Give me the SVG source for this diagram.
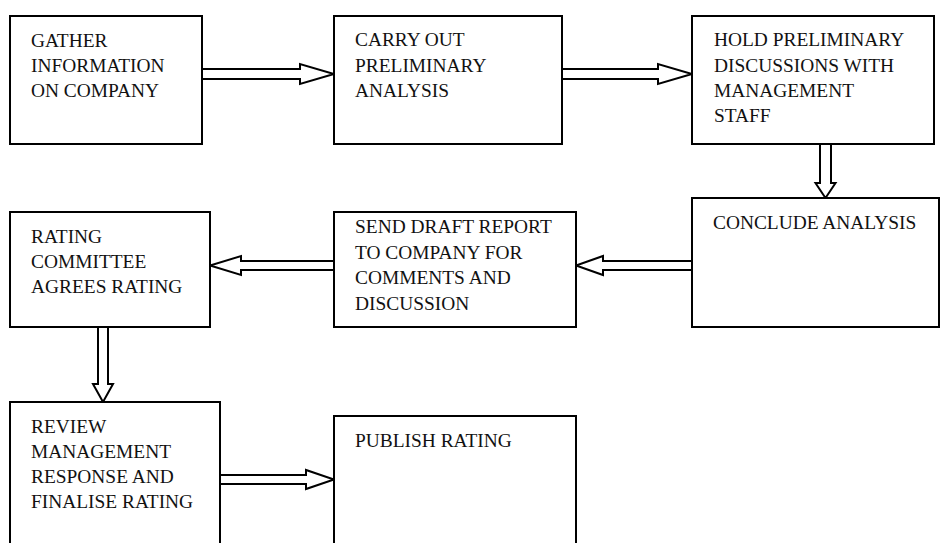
<svg xmlns="http://www.w3.org/2000/svg" width="941" height="543" viewBox="0 0 941 543">
<style>
.box{fill:#fff;stroke:#000;stroke-width:2}
.arr{fill:#fff;stroke:#000;stroke-width:2;stroke-linejoin:miter}
text{font-family:"Liberation Serif","Times New Roman",serif;font-size:19.4px;fill:#111}
</style>
<rect width="941" height="543" fill="#fff"/>
<g id="connectors">
<polygon class="arr" points="202,69 300,69 300,64 334,74 300,84 300,79 202,79"/>
<polygon class="arr" points="562,69 658,69 658,64 692,74 658,84 658,79 562,79"/>
<polygon class="arr" points="820,144 820,183 815.5,183 825.5,198 835.5,183 831,183 831,144"/>
<polygon class="arr" points="692,261 603,261 603,256 576,265.5 603,275 603,270 692,270"/>
<polygon class="arr" points="334,261 241,261 241,256 210,265.5 241,275 241,270 334,270"/>
<polygon class="arr" points="98,327 98,384 93,384 103,402 113,384 108,384 108,327"/>
<polygon class="arr" points="220,475 306,475 306,470 334,479.5 306,489 306,484 220,484"/>
</g>
<g id="n1"><rect class="box" x="10" y="16" width="192" height="128"/>
<text x="31" y="47">GATHER</text><text x="31" y="72">INFORMATION</text><text x="31" y="97">ON COMPANY</text></g>
<g id="n2"><rect class="box" x="334" y="16" width="228" height="128"/>
<text x="355" y="46">CARRY OUT</text><text x="355" y="72">PRELIMINARY</text><text x="355" y="97">ANALYSIS</text></g>
<g id="n3"><rect class="box" x="692" y="16" width="242" height="128"/>
<text x="714" y="46">HOLD PRELIMINARY</text><text x="714" y="72">DISCUSSIONS WITH</text><text x="714" y="97">MANAGEMENT</text><text x="714" y="122">STAFF</text></g>
<g id="n4"><rect class="box" x="692" y="198" width="247" height="129"/>
<text x="713" y="229">CONCLUDE ANALYSIS</text></g>
<g id="n5"><rect class="box" x="334" y="212" width="242" height="115"/>
<text x="355" y="233">SEND DRAFT REPORT</text><text x="355" y="259">TO COMPANY FOR</text><text x="355" y="284">COMMENTS AND</text><text x="355" y="310">DISCUSSION</text></g>
<g id="n6"><rect class="box" x="10" y="212" width="200" height="115"/>
<text x="31" y="243">RATING</text><text x="31" y="268">COMMITTEE</text><text x="31" y="293">AGREES RATING</text></g>
<g id="n7"><rect class="box" x="10" y="402" width="210" height="160"/>
<text x="31" y="433">REVIEW</text><text x="31" y="458">MANAGEMENT</text><text x="31" y="483">RESPONSE AND</text><text x="31" y="508">FINALISE RATING</text></g>
<g id="n8"><rect class="box" x="334" y="416" width="242" height="160"/>
<text x="355" y="447">PUBLISH RATING</text></g>
</svg>
